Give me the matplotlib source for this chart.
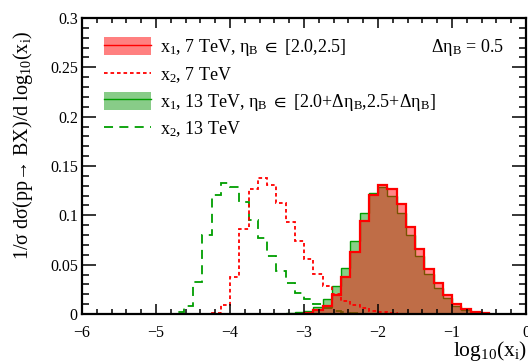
import numpy as np
import matplotlib
matplotlib.use("Agg")
import matplotlib.pyplot as plt
from matplotlib.patches import Patch
from matplotlib.lines import Line2D
from matplotlib.ticker import MultipleLocator, FuncFormatter

plt.rcParams['font.family'] = ['Liberation Serif', 'DejaVu Serif']
plt.rcParams['mathtext.fontset'] = 'custom'
plt.rcParams['mathtext.rm'] = 'Liberation Serif'
plt.rcParams['mathtext.it'] = 'Liberation Serif:italic'
plt.rcParams['mathtext.bf'] = 'Liberation Serif:bold'
plt.rcParams['mathtext.fallback'] = 'stix'

BIN = 0.125

# x1, 7 TeV (solid red, filled)
x1_7_start = -3.0
x1_7_vals = [0.001, 0.004, 0.008, 0.0195, 0.038, 0.063, 0.0945, 0.121, 0.131,
             0.127, 0.111, 0.088, 0.066, 0.046, 0.031, 0.019, 0.010, 0.005,
             0.002, 0.0006]

# x1, 13 TeV (solid green, filled)
x1_13_start = -3.25
x1_13_vals = [0.001, 0.002, 0.003, 0.007, 0.015, 0.028, 0.047, 0.074, 0.102,
              0.1225, 0.1286, 0.120, 0.102, 0.080, 0.059, 0.041, 0.026, 0.016,
              0.0084, 0.0037, 0.001, 0.0003]

# x2, 7 TeV (red dotted)
x2_7_start = -4.5
x2_7_vals = [0.0003, 0.0005, 0.0015, 0.0094, 0.0374, 0.0866, 0.127, 0.138,
             0.1306, 0.113, 0.093, 0.0735, 0.0557, 0.0403, 0.0285, 0.020,
             0.013, 0.0094, 0.006, 0.0035, 0.0018, 0.001, 0.0005]

# x2, 13 TeV (green dashed)
x2_13_start = -4.875
x2_13_vals = [0.0003, 0.0017, 0.0086, 0.0327, 0.0796, 0.1205, 0.133, 0.1292,
              0.1137, 0.0955, 0.077, 0.059, 0.0432, 0.031, 0.0213, 0.0152,
              0.0097, 0.006, 0.0035, 0.002, 0.001, 0.0005]


def edges(start, vals):
    return start + BIN * np.arange(len(vals) + 1)


fig = plt.figure(figsize=(5.28, 3.63), dpi=100)
ax = fig.add_axes([82 / 528, 49 / 363, 444 / 528, 296 / 363])

red_fill = (1.0, 0.0, 0.0, 0.47)
green_fill = (0.0, 0.6, 0.0, 0.47)
green_line = (0.0, 0.62, 0.0)

# green x1 13 TeV
e = edges(x1_13_start, x1_13_vals)
ax.stairs(x1_13_vals, e, fill=True, color=green_fill, lw=0)
ax.stairs(x1_13_vals, e, color=green_line, lw=1.0)

# dashed x2 curves
e = edges(x2_13_start, x2_13_vals)
ax.stairs(x2_13_vals, e, color=green_line, lw=1.3, linestyle=(0, (5, 3.5)))
e = edges(x2_7_start, x2_7_vals)
ax.stairs(x2_7_vals, e, color='red', lw=1.3, linestyle=(0, (2, 1.6)))

# red x1 7 TeV
e = edges(x1_7_start, x1_7_vals)
ax.stairs(x1_7_vals, e, fill=True, color=red_fill, lw=0)
ax.stairs(x1_7_vals, e, color='red', lw=1.6)

ax.set_xlim(-6, 0)
ax.set_ylim(0, 0.3)

ax.xaxis.set_major_locator(MultipleLocator(1))
ax.xaxis.set_minor_locator(MultipleLocator(0.2))
ax.yaxis.set_major_locator(MultipleLocator(0.05))
ax.yaxis.set_minor_locator(MultipleLocator(0.01))
ax.yaxis.set_major_formatter(FuncFormatter(lambda v, p: f"{v:g}"))
ax.xaxis.set_major_formatter(FuncFormatter(lambda v, p: f"{v:g}".replace('-', '\u2212')))

ax.tick_params(axis='both', which='both', direction='in', top=True, right=True,
               labelsize=11.5, width=1.1, color='black')
ax.tick_params(axis='x', which='major', length=7, pad=8)
ax.tick_params(axis='x', which='minor', length=3.5)
ax.tick_params(axis='y', which='major', length=10, pad=3)
ax.tick_params(axis='y', which='minor', length=5)
for s in ax.spines.values():
    s.set_linewidth(1.6)

ax.set_ylabel(r"1/σ dσ(pp→ BX)/d log$_{10}$(x$_\mathrm{i}$)", fontsize=14.5)
ax.yaxis.set_label_coords(-0.106, 0.57)
ax.set_xlabel(r"log$_{10}$(x$_\mathrm{i}$)", fontsize=15.5)
ax.xaxis.set_label_coords(1.003, -0.085)
ax.xaxis.label.set_horizontalalignment('right')
ax.xaxis.label.set_verticalalignment('top')

handles = [
    (Patch(facecolor='#ff8080', edgecolor='none'), Line2D([], [], color='red', lw=1.0)),
    Line2D([], [], color='red', lw=1.3, linestyle=(0, (2, 1.6))),
    (Patch(facecolor='#88cc88', edgecolor='none'), Line2D([], [], color=green_line, lw=1.0)),
    Line2D([], [], color=green_line, lw=1.3, linestyle=(0, (5, 3.5))),
]
labels = [
    r"x$_1$, 7 TeV, η$_\mathrm{B}$ $\in$ [2.0,2.5]",
    r"x$_2$, 7 TeV",
    r"x$_1$, 13 TeV, η$_\mathrm{B}$ $\in$ [2.0+Δη$_\mathrm{B}$,2.5+Δη$_\mathrm{B}$]",
    r"x$_2$, 13 TeV",
]
ax.legend(handles, labels, loc='upper left', bbox_to_anchor=(0.0495, 0.935),
          frameon=False, fontsize=13, handlelength=2.6, handleheight=1.15,
          handletextpad=0.5, labelspacing=0.37, borderaxespad=0, borderpad=0)

ax.text(0.95, 0.9, r"Δη$_\mathrm{B}$ = 0.5", transform=ax.transAxes,
        ha='right', va='center', fontsize=13)

fig.savefig("out.png", dpi=100)
